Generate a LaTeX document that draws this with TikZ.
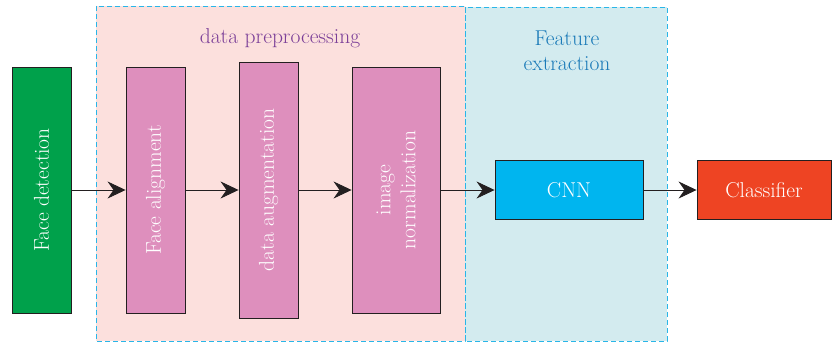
\documentclass[tikz,border=0pt]{standalone}
\usetikzlibrary{arrows.meta}
\definecolor{fdgreen}{HTML}{00A14B}
\definecolor{boxpink}{HTML}{DE8FBD}
\definecolor{bgpink}{HTML}{FCE0DD}
\definecolor{bgblue}{HTML}{D3EBEF}
\definecolor{dashcyan}{HTML}{29B6E8}
\definecolor{cnnblue}{HTML}{00B5EF}
\definecolor{clsred}{HTML}{EE4423}
\definecolor{edge}{HTML}{231F20}
\definecolor{titlepurple}{HTML}{7B3F98}
\definecolor{titleblue}{HTML}{1A7AB8}
\begin{document}
\begin{tikzpicture}[x=1pt,y=-1pt,
  lbl/.style={font=\fontsize{21.5}{25}\selectfont},
  blk/.style={draw=edge, line width=0.9pt, text=white, lbl, inner sep=0pt, align=center},
  vblk/.style={blk, fill=boxpink, rotate=90},
  region/.style={draw=dashcyan, line width=0.9pt, dash pattern=on 5pt off 3pt},
  conn/.style={draw=edge, line width=0.8pt, -{Stealth[length=18pt,width=17pt,inset=6pt]}},
  title/.style={lbl, align=center}]
\useasboundingbox (0,0) rectangle (832,345);
\fill[white] (0,0) rectangle (832,345);
% regions
\fill[bgpink] (96,6) rectangle (465,341);
\fill[bgblue] (465,7) rectangle (667,341);
\draw[region] (96,6) rectangle (465,341);
\draw[region] (465,7) rectangle (667,341);
\node[title, text=titlepurple] (t1) at (280,38) {data preprocessing};
\node[title, text=titleblue] (t2) at (567,51) {Feature\\extraction};
% blocks
\node[blk, fill=fdgreen, rotate=90, minimum width=246pt, minimum height=59pt] (fd) at (41.5,190) {Face detection};
\node[vblk, minimum width=246pt, minimum height=59pt] (fa) at (155.5,190) {Face alignment};
\node[vblk, minimum width=256pt, minimum height=59pt] (da) at (268.5,190) {data augmentation};
\node[vblk, minimum width=246pt, minimum height=88pt] (in) at (396,190) {image\\normalization};
\node[blk, fill=cnnblue, minimum width=148pt, minimum height=59pt] (cnn) at (569,190) {CNN};
\node[blk, fill=clsred, minimum width=134pt, minimum height=59pt] (cls) at (764,190) {Classifier};
% connectors
\draw[conn] (fd.south) -- (fa.north);
\draw[conn] (fa.south) -- (da.north);
\draw[conn] (da.south) -- (in.north);
\draw[conn] (in.south) -- (cnn.west);
\draw[conn] (cnn.east) -- (cls.west);
\end{tikzpicture}
\end{document}
